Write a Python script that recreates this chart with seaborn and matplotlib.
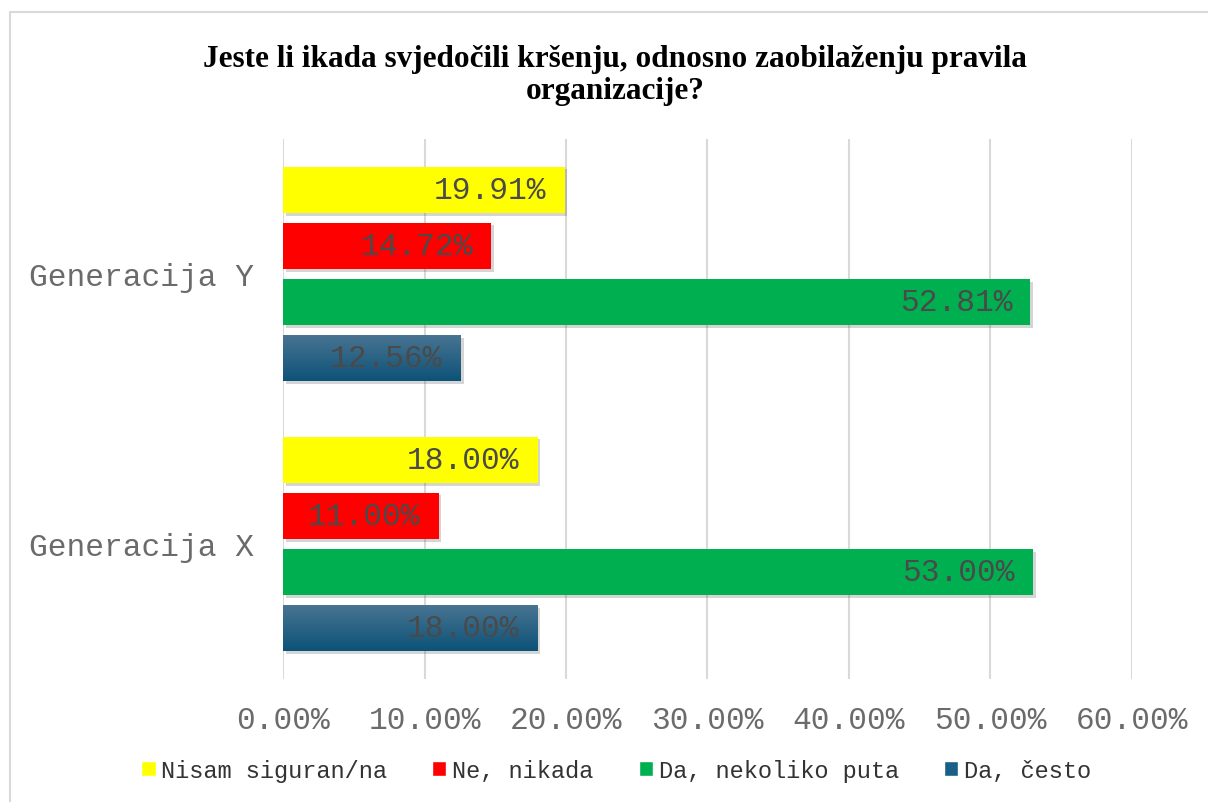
import matplotlib
matplotlib.use("Agg")
import matplotlib.pyplot as plt
import matplotlib.patheffects as pe
from matplotlib.patches import Rectangle
from matplotlib.ticker import FuncFormatter
import numpy as np
import pandas as pd
import seaborn as sns

# data (percent)
groups = ['Generacija Y', 'Generacija X']
answers = ['Nisam siguran/na', 'Ne, nikada', 'Da, nekoliko puta', 'Da, često']
gen_y = [19.91, 14.72, 52.81, 12.56]
gen_x = [18.00, 11.00, 53.00, 18.00]
colors = ['#FFFF00', '#FF0000', '#00B050', '#1A5F86']
title = 'Jeste li ikada svjedočili kršenju, odnosno zaobilaženju pravila\norganizacije?'

sns.set_style("white")
plt.rcParams['font.family'] = ['Liberation Mono', 'DejaVu Sans Mono']

rows = []
for g, vals in zip(groups, [gen_y, gen_x]):
    for a, v in zip(answers, vals):
        rows.append((g, a, v))
df = pd.DataFrame(rows, columns=['group', 'answer', 'pct'])

fig = plt.figure(figsize=(12.08, 8.03), dpi=100)
ax = fig.add_axes([0.2343, 0.1532, 0.7027, 0.6725])

sns.barplot(data=df, y='group', x='pct', hue='answer', order=groups,
            hue_order=answers, palette=colors, orient='h', width=0.83,
            gap=0.17, saturation=1, ax=ax, errorbar=None)

shadow = [pe.SimplePatchShadow(offset=(2, -2), alpha=0.22, shadow_rgbFace='#404040'),
          pe.Normal()]
for cont in ax.containers:
    for p in cont:
        p.set_path_effects(shadow)
        p.set_edgecolor('none')

ax.set_xlim(0, 60)
ylim = ax.get_ylim()

# gradient on the dark blue series
grad = np.linspace(0, 1, 64)[:, None]
top = np.array([0x4A, 0x74, 0x92]) / 255
bot = np.array([0x0C, 0x53, 0x78]) / 255
img = top * (1 - grad[..., None]) + bot * grad[..., None]
for p in ax.containers[3]:
    x0, y0, w, h = p.get_x(), p.get_y(), p.get_width(), p.get_height()
    im = ax.imshow(img, extent=(x0, x0 + w, y0 + h, y0), origin='upper',
                   aspect='auto', zorder=p.get_zorder() + 0.1)
    im.set_clip_path(p)
ax.set_ylim(ylim)
ax.set_xlim(0, 60)

for cont in ax.containers:
    labels = ['{:.2f}%'.format(p.get_width()) for p in cont]
    texts = ax.bar_label(cont, labels=labels, padding=-13, fontsize=22.5,
                         color='#4a4a4a')
    for t in texts:
        t.set_ha('right')
        t.set_zorder(5)

ax.xaxis.set_major_formatter(FuncFormatter(lambda v, _: '{:.2f}%'.format(v)))
ax.set_xticks(np.arange(0, 61, 10))
ax.tick_params(axis='x', labelsize=22.5, colors='#6b6b6b', length=0, pad=19)
ax.tick_params(axis='y', labelsize=22.5, colors='#6b6b6b', length=0, pad=21)
ax.grid(axis='x', color='#D9D9D9', linewidth=1.5)
ax.set_axisbelow(True)
for s in ax.spines.values():
    s.set_visible(False)
ax.set_xlabel('')
ax.set_ylabel('')

ax.get_legend().remove()
handles = [Rectangle((0, 0), 1, 1, facecolor=c) for c in colors]
fig.legend(handles, answers, loc='center', bbox_to_anchor=(0.51, 0.039),
           ncol=4, frameon=False, fontsize=17, handlelength=0.6,
           handleheight=0.6, handletextpad=0.25, columnspacing=1.9,
           labelcolor='#333333')

fig.text(0.509, 0.906, title, ha='center', va='center', fontsize=22.5,
         fontweight='bold', family='Liberation Serif', linespacing=1.1,
         color='black')

fig.patches.append(Rectangle((0.0085, -0.01), 1.0, 0.994, transform=fig.transFigure,
                             fill=False, edgecolor='#D9D9D9', linewidth=1.5))

fig.savefig("out.png", dpi=100)
